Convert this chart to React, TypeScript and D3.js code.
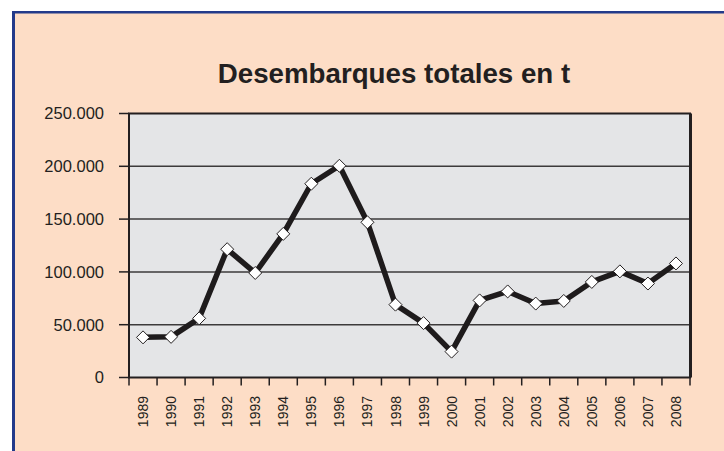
import React from "react";
import * as d3 from "d3";

const years = ["1989","1990","1991","1992","1993","1994","1995","1996","1997","1998","1999","2000","2001","2002","2003","2004","2005","2006","2007","2008"];
const landings = [38000, 38500, 56000, 121500, 99000, 136000, 183500, 200500, 147000, 69000, 51500, 24500, 73000, 81500, 70000, 72500, 90500, 100500, 89000, 108000];
const yTicks = [0, 50000, 100000, 150000, 200000, 250000];
const title = "Desembarques totales en t";

const W = 724, H = 451;
const plot = { left: 129, right: 690, top: 113.5, bottom: 377.5 };

const fmt = (v: number) => v === 0 ? "0" : d3.format(",")(v).replace(/,/g, ".");

export default function App() {
  const x = d3.scaleBand<string>().domain(years).range([plot.left, plot.right]).padding(0);
  const y = d3.scaleLinear().domain([0, 250000]).range([plot.bottom, plot.top]);
  const line = d3.line<number>().x((_, i) => (x(years[i]) as number) + x.bandwidth() / 2).y(d => y(d));
  const boundaries = years.map(yr => x(yr) as number).concat([plot.right]);
  const font = "Arial, 'Liberation Sans', Helvetica, sans-serif";
  return (
    <svg width={W} height={H} style={{ position: "absolute", left: 0, top: 0 }} fontFamily={font}>
      <rect x={0} y={0} width={W} height={H} fill="#ffffff" />
      <rect x={12} y={11} width={W - 12} height={H - 11} fill="#FDDDC6" />
      <line x1={13.5} y1={11} x2={13.5} y2={H} stroke="#233A8A" strokeWidth={3} />
      <line x1={12} y1={12.25} x2={W} y2={12.25} stroke="#233A8A" strokeWidth={2.5} />
      <text x={394} y={83} textAnchor="middle" fontSize={27.7} fontWeight="bold" fill="#231F20">{title}</text>
      <rect x={plot.left} y={plot.top} width={plot.right - plot.left} height={plot.bottom - plot.top} fill="#E4E5E7" />
      {yTicks.map(t => (
        <g key={t}>
          {t > 0 && t < 250000 && <line x1={plot.left} x2={plot.right} y1={y(t)} y2={y(t)} stroke="#3C3A3B" strokeWidth={1.5} />}
          <line x1={119} x2={plot.left} y1={y(t)} y2={y(t)} stroke="#231F20" strokeWidth={1.5} />
          <text x={104} y={y(t)} dy="0.36em" textAnchor="end" fontSize={16.5} fill="#231F20">{fmt(t)}</text>
        </g>
      ))}
      {boundaries.map((b, i) => (
        <line key={i} x1={b} x2={b} y1={plot.bottom} y2={385.5} stroke="#231F20" strokeWidth={1.5} />
      ))}
      {years.map(yr => {
        const cx = (x(yr) as number) + x.bandwidth() / 2;
        return (
          <text key={yr} transform={`translate(${cx},396) rotate(-90)`} textAnchor="end" dy="0.36em" fontSize={14} fill="#231F20">{yr}</text>
        );
      })}
      <rect x={plot.left} y={plot.top} width={plot.right - plot.left} height={plot.bottom - plot.top} fill="none" stroke="#231F20" strokeWidth={2} />
      <line x1={plot.right + 0.5} x2={plot.right + 0.5} y1={plot.top} y2={plot.bottom} stroke="#231F20" strokeWidth={3} />
      <path d={line(landings) || ""} fill="none" stroke="#1E1B1C" strokeWidth={5.5} strokeLinejoin="round" />
      {landings.map((v, i) => {
        const cx = (x(years[i]) as number) + x.bandwidth() / 2;
        const cy = y(v);
        const s = 6.5;
        return (
          <path key={i} d={`M${cx},${cy - s}L${cx + s},${cy}L${cx},${cy + s}L${cx - s},${cy}Z`} fill="#ffffff" stroke="#231F20" strokeWidth={1} />
        );
      })}
    </svg>
  );
}
